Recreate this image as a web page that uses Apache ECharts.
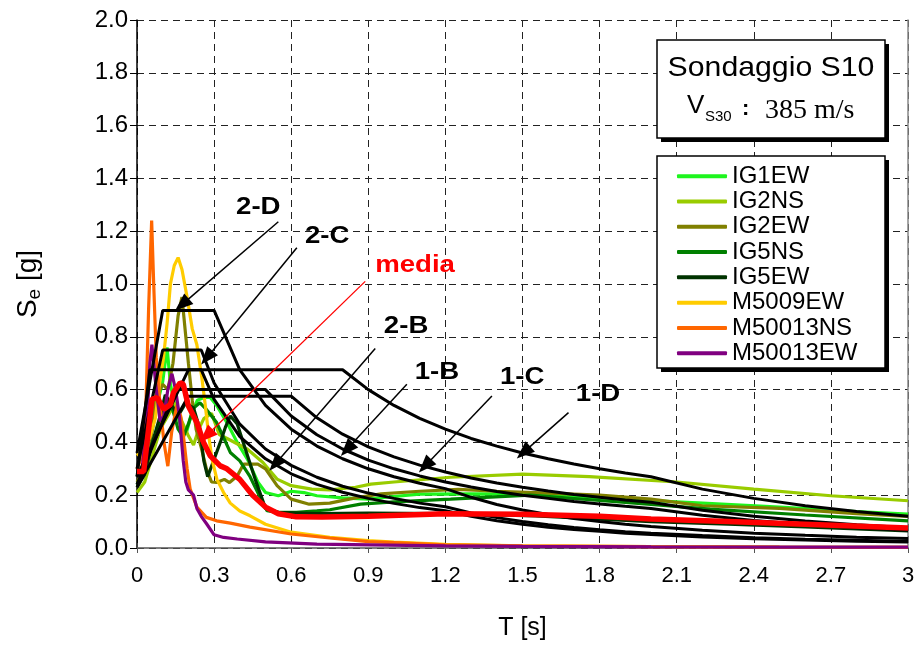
<!DOCTYPE html>
<html>
<head>
<meta charset="utf-8">
<script src="https://cdn.jsdelivr.net/npm/echarts@6/dist/echarts.min.js"></script>
<style>
  html, body { margin: 0; padding: 0; background: #fff; }
  #chart { width: 922px; height: 663px; }
</style>
</head>
<body>
<div id="chart"></div>
<script>
// Tick labels
const xTickLabels = ['0', '0.3', '0.6', '0.9', '1.2', '1.5', '1.8', '2.1', '2.4', '2.7', '3'];
const yTickLabels = ['0.0', '0.2', '0.4', '0.6', '0.8', '1.0', '1.2', '1.4', '1.6', '1.8', '2.0'];

// Recorded response spectra, [T (s), Se (g)]
const recordNames = ['IG1EW', 'IG2NS', 'IG2EW', 'IG5NS', 'IG5EW', 'M5009EW', 'M50013NS', 'M50013EW'];
const recordColors = ['#1ef51e', '#99cc00', '#808000', '#008000', '#003300', '#ffcc00', '#ff6600', '#800080'];

const ig1ew = [[0,0.27],[0.03,0.33],[0.06,0.45],[0.08,0.55],[0.1,0.63],[0.117,0.76],[0.13,0.62],[0.15,0.53],[0.17,0.46],[0.19,0.43],[0.21,0.5],[0.235,0.56],[0.26,0.57],[0.285,0.57],[0.31,0.54],[0.35,0.475],[0.39,0.4],[0.43,0.336],[0.47,0.25],[0.5,0.21],[0.55,0.198],[0.6,0.215],[0.65,0.21],[0.7,0.198],[0.8,0.19],[0.9,0.185],[1.0,0.195],[1.1,0.204],[1.3,0.205],[1.55,0.204],[1.8,0.19],[2.0,0.18],[2.2,0.17],[2.5,0.155],[2.8,0.138],[3.0,0.128]];
const ig2ns = [[0,0.21],[0.03,0.25],[0.06,0.35],[0.09,0.45],[0.12,0.5],[0.15,0.55],[0.175,0.48],[0.2,0.425],[0.22,0.39],[0.24,0.45],[0.26,0.49],[0.29,0.51],[0.32,0.43],[0.36,0.41],[0.43,0.374],[0.49,0.324],[0.545,0.261],[0.6,0.236],[0.68,0.223],[0.75,0.22],[0.85,0.23],[0.91,0.242],[1.0,0.25],[1.22,0.268],[1.5,0.28],[1.76,0.27],[2.1,0.25],[2.4,0.223],[2.7,0.198],[3.0,0.179]];
const ig2ew = [[0,0.25],[0.03,0.3],[0.06,0.45],[0.078,0.62],[0.09,0.6],[0.1,0.62],[0.12,0.6],[0.14,0.7],[0.16,0.88],[0.175,0.95],[0.19,0.8],[0.2,0.7],[0.215,0.56],[0.23,0.45],[0.25,0.38],[0.27,0.3],[0.29,0.25],[0.31,0.248],[0.34,0.26],[0.36,0.248],[0.39,0.273],[0.415,0.318],[0.47,0.318],[0.5,0.3],[0.545,0.236],[0.6,0.185],[0.67,0.166],[0.75,0.17],[0.85,0.19],[0.95,0.205],[1.1,0.215],[1.25,0.222],[1.4,0.215],[1.55,0.21],[1.8,0.2],[2.0,0.185],[2.2,0.16],[2.5,0.15],[2.8,0.13],[3.0,0.12]];
const ig5ns = [[0,0.24],[0.03,0.3],[0.06,0.4],[0.09,0.48],[0.12,0.56],[0.14,0.52],[0.16,0.45],[0.18,0.42],[0.2,0.47],[0.22,0.53],[0.245,0.55],[0.27,0.525],[0.31,0.475],[0.34,0.412],[0.363,0.362],[0.4,0.33],[0.44,0.27],[0.48,0.19],[0.506,0.141],[0.545,0.135],[0.62,0.135],[0.7,0.141],[0.75,0.145],[0.87,0.166],[1.0,0.175],[1.22,0.185],[1.53,0.2],[1.8,0.18],[2.0,0.165],[2.23,0.147],[2.6,0.125],[3.0,0.103]];
const ig5ew = [[0,0.23],[0.03,0.28],[0.06,0.4],[0.09,0.5],[0.11,0.58],[0.13,0.55],[0.16,0.5],[0.19,0.55],[0.22,0.53],[0.245,0.45],[0.26,0.33],[0.275,0.27],[0.3,0.336],[0.324,0.4],[0.345,0.46],[0.363,0.5],[0.39,0.47],[0.42,0.38],[0.46,0.26],[0.5,0.15],[0.55,0.135],[0.7,0.13],[0.9,0.132],[1.2,0.13],[1.55,0.122],[2.0,0.1],[2.3,0.09],[2.6,0.08],[3.0,0.065]];
const m5009ew = [[0,0.35],[0.03,0.38],[0.05,0.42],[0.071,0.49],[0.09,0.64],[0.103,0.72],[0.117,0.85],[0.13,1.0],[0.145,1.07],[0.16,1.1],[0.175,1.055],[0.195,0.95],[0.215,0.83],[0.233,0.77],[0.253,0.64],[0.266,0.538],[0.279,0.425],[0.292,0.336],[0.311,0.26],[0.337,0.21],[0.363,0.17],[0.4,0.14],[0.44,0.122],[0.5,0.09],[0.6,0.06],[0.75,0.04],[0.9,0.028],[1.0,0.022],[1.2,0.014],[1.5,0.008],[2.0,0.005],[2.5,0.003],[3.0,0.002]];
const m50013ns = [[0,0.3],[0.02,0.35],[0.035,0.55],[0.045,0.9],[0.057,1.24],[0.065,1.0],[0.075,0.72],[0.09,0.54],[0.105,0.4],[0.12,0.31],[0.135,0.44],[0.155,0.54],[0.17,0.5],[0.18,0.43],[0.195,0.3],[0.207,0.223],[0.233,0.155],[0.27,0.116],[0.31,0.103],[0.363,0.094],[0.44,0.079],[0.6,0.053],[0.75,0.038],[0.9,0.024],[1.0,0.02],[1.2,0.012],[1.5,0.008],[2.0,0.005],[2.5,0.003],[3.0,0.002]];
const m50013ew = [[0,0.27],[0.02,0.3],[0.04,0.5],[0.05,0.7],[0.058,0.77],[0.075,0.6],[0.09,0.48],[0.105,0.5],[0.12,0.6],[0.136,0.66],[0.15,0.6],[0.165,0.5],[0.18,0.33],[0.19,0.25],[0.2,0.22],[0.22,0.2],[0.233,0.15],[0.25,0.12],[0.272,0.09],[0.3,0.05],[0.337,0.04],[0.39,0.034],[0.5,0.023],[0.7,0.015],[0.91,0.012],[1.2,0.008],[1.5,0.006],[2.0,0.004],[2.5,0.003],[3.0,0.003]];
const recordData = [ig1ew, ig2ns, ig2ew, ig5ns, ig5ew, m5009ew, m50013ns, m50013ew];

// Mean spectrum
const media = [[0,0.29],[0.026,0.29],[0.045,0.45],[0.058,0.563],[0.078,0.57],[0.09,0.55],[0.104,0.526],[0.13,0.544],[0.142,0.589],[0.168,0.626],[0.18,0.62],[0.2,0.538],[0.233,0.475],[0.259,0.4],[0.285,0.349],[0.324,0.311],[0.35,0.3],[0.4,0.26],[0.45,0.2],[0.5,0.155],[0.55,0.13],[0.62,0.118],[0.72,0.117],[0.9,0.12],[1.2,0.13],[1.5,0.128],[1.8,0.12],[2.0,0.11],[2.3,0.1],[2.6,0.09],[3.0,0.076]];

// Code spectra (type 1 / type 2, soil B, C, D)
const spec2D = [[0,0.36],[0.1,0.9],[0.3,0.9],[0.4,0.675],[0.5,0.54],[0.6,0.45],[0.7,0.386],[0.8,0.338],[0.9,0.3],[1.0,0.27],[1.1,0.245],[1.2,0.225],[1.3,0.192],[1.4,0.165],[1.5,0.144],[1.6,0.127],[1.7,0.112],[1.8,0.1],[1.9,0.09],[2.0,0.081],[2.2,0.067],[2.4,0.056],[2.6,0.048],[2.8,0.041],[3.0,0.036]];
const spec2C = [[0,0.3],[0.1,0.75],[0.25,0.75],[0.3,0.625],[0.4,0.469],[0.5,0.375],[0.6,0.313],[0.7,0.268],[0.8,0.234],[0.9,0.208],[1.0,0.188],[1.1,0.17],[1.2,0.156],[1.3,0.133],[1.4,0.115],[1.5,0.1],[1.6,0.088],[1.7,0.078],[1.8,0.069],[1.9,0.062],[2.0,0.056],[2.2,0.047],[2.4,0.039],[2.6,0.033],[2.8,0.029],[3.0,0.025]];
const spec2B = [[0,0.27],[0.05,0.675],[0.25,0.675],[0.3,0.563],[0.4,0.422],[0.5,0.338],[0.6,0.281],[0.7,0.241],[0.8,0.211],[0.9,0.188],[1.0,0.169],[1.1,0.153],[1.2,0.141],[1.3,0.12],[1.4,0.103],[1.5,0.09],[1.6,0.079],[1.7,0.07],[1.8,0.063],[1.9,0.056],[2.0,0.051],[2.2,0.042],[2.4,0.035],[2.6,0.03],[2.8,0.026],[3.0,0.023]];
const spec1B = [[0,0.24],[0.15,0.6],[0.5,0.6],[0.6,0.5],[0.7,0.429],[0.8,0.375],[0.9,0.333],[1.0,0.3],[1.1,0.273],[1.2,0.25],[1.3,0.231],[1.4,0.214],[1.5,0.2],[1.6,0.188],[1.7,0.176],[1.8,0.167],[1.9,0.158],[2.0,0.15],[2.2,0.124],[2.4,0.104],[2.6,0.089],[2.8,0.077],[3.0,0.067]];
const spec1C = [[0,0.23],[0.2,0.575],[0.6,0.575],[0.7,0.493],[0.8,0.431],[0.9,0.383],[1.0,0.345],[1.1,0.314],[1.2,0.288],[1.3,0.265],[1.4,0.246],[1.5,0.23],[1.6,0.216],[1.7,0.203],[1.8,0.192],[1.9,0.182],[2.0,0.173],[2.2,0.143],[2.4,0.12],[2.6,0.102],[2.8,0.088],[3.0,0.077]];
const spec1D = [[0,0.27],[0.2,0.675],[0.8,0.675],[0.9,0.6],[1.0,0.54],[1.1,0.491],[1.2,0.45],[1.3,0.415],[1.4,0.386],[1.5,0.36],[1.6,0.338],[1.7,0.318],[1.8,0.3],[1.9,0.284],[2.0,0.27],[2.2,0.223],[2.4,0.188],[2.6,0.16],[2.8,0.138],[3.0,0.12]];
const specNames = ['2-D', '2-C', '2-B', '1-B', '1-C', '1-D'];
const specData = [spec2D, spec2C, spec2B, spec1B, spec1C, spec1D];

// Callout labels with their arrows, in (T, Se) units
const calloutText = ['2-D', '2-C', 'media', '2-B', '1-B', '1-C', '1-D'];
const calloutAt = [[0.472,1.292],[0.74,1.182],[1.082,1.069],[1.047,0.838],[1.167,0.666],[1.499,0.647],[1.794,0.581]];
const arrowFrom = [[0.55,1.236],[0.622,1.137],[0.888,1.01],[0.927,0.756],[1.05,0.62],[1.381,0.576],[1.679,0.513]];
const arrowTo = [[0.175,0.922],[0.272,0.721],[0.27,0.425],[0.538,0.318],[0.817,0.374],[1.121,0.311],[1.504,0.362]];
const calloutColor = ['#000', '#000', '#ff0000', '#000', '#000', '#000', '#000'];

const FONT = 'Liberation Sans, Arial, sans-serif';

const chart = echarts.init(document.getElementById('chart'), null, { renderer: 'canvas' });

const series = [];
recordNames.forEach((name, i) => {
  series.push({
    name, type: 'line', data: recordData[i], showSymbol: false, symbol: 'none',
    lineStyle: { color: recordColors[i], width: 3.2 }, itemStyle: { color: recordColors[i] },
    z: 2, silent: true
  });
});
specNames.forEach((name, i) => {
  series.push({
    name: 'EC8 ' + name, type: 'line', data: specData[i], showSymbol: false, symbol: 'none',
    lineStyle: { color: '#000', width: 3 }, itemStyle: { color: '#000' }, z: 3, silent: true
  });
});
series.push({
  name: 'media', type: 'line', data: media, showSymbol: false, symbol: 'none',
  lineStyle: { color: '#ff0000', width: 5.5 }, itemStyle: { color: '#ff0000' }, z: 4, silent: true
});
// arrows
series.push({
  name: 'arrows', type: 'line', data: [], silent: true, z: 5,
  markLine: {
    silent: true, animation: false,
    symbol: ['none', 'triangle'], symbolSize: [14, 18],
    label: { show: false },
    data: arrowFrom.map((p, i) => [
      { coord: p, lineStyle: { color: calloutColor[i], width: i === 2 ? 1.3 : 1.5, type: 'solid' }, itemStyle: { color: calloutColor[i] } },
      { coord: arrowTo[i] }
    ])
  }
});

const option = {
  animation: false,
  backgroundColor: '#fff',
  grid: { left: 137, right: 14, top: 20, bottom: 115, containLabel: false },
  xAxis: {
    type: 'value', min: 0, max: 3, interval: 0.3,
    name: 'T [s]', nameLocation: 'middle', nameGap: 68,
    nameTextStyle: { fontFamily: FONT, fontSize: 25, color: '#000' },
    axisLine: { lineStyle: { color: '#555', width: 1.5 } },
    axisTick: { show: true, inside: false, length: 5, lineStyle: { color: '#555' } },
    axisLabel: {
      fontFamily: FONT, fontSize: 22, color: '#000', margin: 17,
      formatter: v => xTickLabels[Math.round(v / 0.3)]
    },
    splitLine: { show: true, lineStyle: { color: '#222', width: 1, type: [7, 5] } }
  },
  yAxis: [{
    type: 'value', min: 0, max: 2, interval: 0.2,
    name: '{s|S}{e|e}{s| [g]}', nameLocation: 'middle', nameGap: 93, nameRotate: 90,
    nameTextStyle: {
      rich: {
        s: { fontFamily: FONT, fontSize: 28, color: '#000' },
        e: { fontFamily: FONT, fontSize: 19, color: '#000', padding: [12, 0, 0, 0] }
      }
    },
    axisLine: { show: true, lineStyle: { color: '#000', width: 1.5 } },
    axisTick: { show: true, inside: false, length: 7, lineStyle: { color: '#000' } },
    axisLabel: {
      fontFamily: FONT, fontSize: 24, color: '#000', margin: 9,
      formatter: v => yTickLabels[Math.round(v / 0.2)]
    },
    splitLine: { show: true, lineStyle: { color: '#222', width: 1, type: [7, 5] } }
  }, {
    type: 'value', min: 0, max: 2, interval: 0.2, position: 'right',
    axisLine: { show: true, lineStyle: { color: '#888', width: 1.5 } },
    axisTick: { show: false }, axisLabel: { show: false }, splitLine: { show: false }
  }],
  legend: {
    orient: 'vertical', left: 657, top: 157, z: 20,
    padding: [7, 20, 6, 20], itemGap: 1, itemWidth: 50, itemHeight: 4,
    icon: 'roundRect',
    data: recordNames,
    textStyle: { fontFamily: FONT, fontSize: 24, lineHeight: 24.3, color: '#000' },
    selectedMode: false
  },
  series
};
chart.setOption(option);

// Framed boxes with a solid drop shadow, info text and callout labels
function shadowBox(x, y, w, h) {
  return [
    { type: 'rect', shape: { x: x + 4, y: y + 4, width: w, height: h }, style: { fill: '#000' }, z: 9 },
    { type: 'rect', shape: { x, y, width: w, height: h }, style: { fill: '#fff', stroke: '#000', lineWidth: 1.5 }, z: 10 }
  ];
}
const graphics = [
  ...shadowBox(657, 40, 228, 98),
  ...shadowBox(657, 156, 228, 212),
  { type: 'text', x: 771, y: 68, scaleX: 1.08, z: 11,
    style: { text: 'Sondaggio S10', fontFamily: FONT, fontSize: 28, fill: '#000', align: 'center', verticalAlign: 'middle' } },
  { type: 'text', x: 687, y: 119, z: 11,
    style: { text: 'V', fontFamily: FONT, fontSize: 26, fill: '#000', align: 'left', verticalAlign: 'bottom' } },
  { type: 'text', x: 705, y: 124, z: 11,
    style: { text: 'S30', fontFamily: FONT, fontSize: 15, fill: '#000', align: 'left', verticalAlign: 'bottom' } },
  { type: 'text', x: 742, y: 120, z: 11,
    style: { text: ':', fontFamily: FONT, fontSize: 22, fontWeight: 'bold', fill: '#000', align: 'left', verticalAlign: 'bottom' } },
  { type: 'text', x: 765, y: 125, z: 11,
    style: { text: '385 m/s', fontFamily: 'Liberation Serif, Times New Roman, serif', fontSize: 28, fill: '#000', align: 'left', verticalAlign: 'bottom' } }
];
calloutText.forEach((t, i) => {
  const p = chart.convertToPixel({ xAxisIndex: 0, yAxisIndex: 0 }, calloutAt[i]);
  graphics.push({
    type: 'text', x: p[0], y: p[1], scaleX: 1.15, z: 12,
    style: { text: t, fontFamily: FONT, fontSize: 24, fontWeight: 'bold', fill: calloutColor[i], align: 'center', verticalAlign: 'middle' }
  });
});
chart.setOption({ graphic: graphics });
</script>
</body>
</html>
